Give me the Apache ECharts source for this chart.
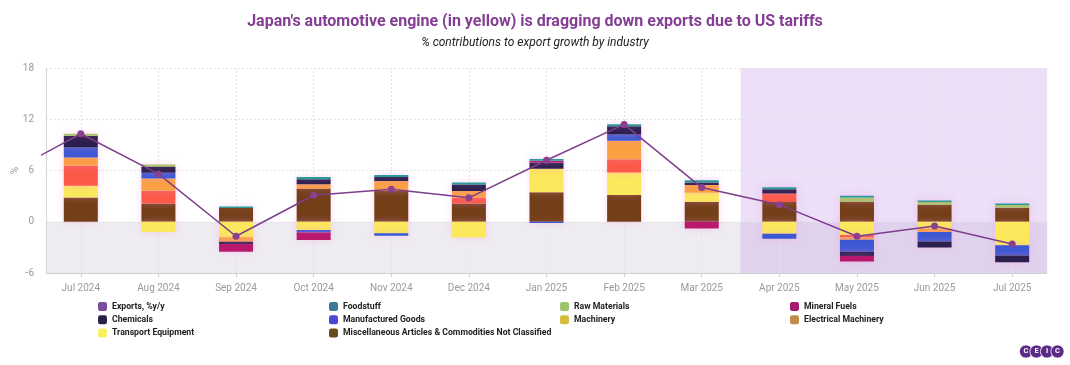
<!DOCTYPE html>
<html><head><meta charset="utf-8">
<script src="https://cdn.jsdelivr.net/npm/echarts@6/dist/echarts.min.js"></script>
<style>html,body{margin:0;padding:0;background:#fff}#c{width:1070px;height:365px}</style>
</head><body><div id="c"></div>
<script>
// ---- data ----
const categories = ['Jul 2024','Aug 2024','Sep 2024','Oct 2024','Nov 2024','Dec 2024','Jan 2025','Feb 2025','Mar 2025','Apr 2025','May 2025','Jun 2025','Jul 2025'];
const exportsJun2024 = 5.4; // previous month, only the line segment entering the plot is visible
const exportsYoY = [10.3, 5.6, -1.7, 3.1, 3.8, 2.8, 7.2, 11.4, 4.0, 2.0, -1.7, -0.5, -2.6];
const misc       = [2.84, 2.15, 1.6, 3.9, 3.6, 2.15, 3.45, 3.12, 2.34, 2.3, 2.35, 2.0, 1.65];
const transport  = [1.37, -1.2, -1.8, -0.97, -1.36, -1.83, 2.75, 2.65, 1.05, -1.4, -1.55, -0.8, -2.75];
const electrical = [2.37, 1.47, 0, 0, 0, 0.7, 0, 1.56, 0, 1.0, -0.3, 0, 0];
const machinery  = [0.94, 1.45, -0.55, 0.5, 1.17, 0.74, 0, 2.14, 0.9, 0, -0.25, -0.4, 0];
const manufactured = [1.17, 0.66, 0, -0.3, -0.27, 0, -0.15, 0.74, 0, -0.6, -1.4, -1.1, -1.2];
const chemicals  = [1.37, 0.74, -0.25, 0.58, 0.47, 0.78, 0.75, 0.97, 0.3, 0.5, -0.5, -0.7, -0.8];
const mineralFuels = [0, 0, -0.9, -0.86, 0, 0, 0.2, 0, -0.8, 0, -0.65, 0, 0];
const rawMaterials = [0.23, 0.23, 0, 0, 0, 0, 0, 0, 0, 0, 0.5, 0.3, 0.3];
const foodstuff  = [0, 0, 0.2, 0.27, 0.23, 0.23, 0.2, 0.23, 0.27, 0.25, 0.2, 0.2, 0.2];
const yTicks = [-6, 0, 6, 12, 18];
const shadedFrom = 'Apr 2025';

// ---- presentation ----
const barSeriesDef = [
  ['Miscellaneous Articles & Commodities Not Classified', misc, '#733f18', '#6b4a1a'],
  ['Transport Equipment', transport, '#fbe85c', '#f6f064'],
  ['Electrical Machinery', electrical, '#fb5a48', '#c48a4a'],
  ['Machinery', machinery, '#fba043', '#d4bd3c'],
  ['Manufactured Goods', manufactured, '#3b58d2', '#4b48d6'],
  ['Chemicals', chemicals, '#2b1f4d', '#2a2048'],
  ['Mineral Fuels', mineralFuels, '#b8196f', '#a11a6e'],
  ['Raw Materials', rawMaterials, '#a9c46a', '#9dc56d'],
  ['Foodstuff', foodstuff, '#2a9a9a', '#3d7a9a']
];
const legendColor = {'Exports, %y/y': '#7a4e9e'};
barSeriesDef.forEach(d => legendColor[d[0]] = d[3]);

const FONT = 'Roboto, "Noto Sans", sans-serif';
const X0 = -0.45, X1 = categories.length - 1 + 0.45;   // visible plot frame (in category units)
const yMin = yTicks[0], yMax = yTicks[yTicks.length - 1];
const series = [];
// background bands
series.push({
  type: 'line', xAxisIndex: 1, data: [], silent: true, z: 0,
  markArea: {
    silent: true, z: 0,
    data: [
      [{xAxis: X0, yAxis: yMin, itemStyle: {color: 'rgba(187,179,199,0.25)'}}, {xAxis: X1, yAxis: 0}],
      [{xAxis: categories.indexOf(shadedFrom) - 0.5, yAxis: yMin, itemStyle: {color: 'rgba(192,148,228,0.30)'}}, {xAxis: X1, yAxis: yMax}]
    ]
  }
});
// grid lines and axis lines
const gridLines = [];
categories.forEach((c, i) => gridLines.push([{coord: [i, yMin]}, {coord: [i, yMax]}]));
yTicks.slice(1).forEach(v => gridLines.push([{coord: [X0, v]}, {coord: [X1, v]}]));
series.push({
  type: 'line', xAxisIndex: 1, data: [], silent: true, z: 1,
  markLine: {
    silent: true, z: 1, symbol: ['none', 'none'], label: {show: false},
    lineStyle: {type: [2, 2], color: '#e2e2e2', width: 1},
    data: gridLines.concat([
      [{coord: [X0, yMin], lineStyle: {type: 'solid', color: '#d6d6d6'}}, {coord: [X0, yMax]}],
      [{coord: [X0, yMin], lineStyle: {type: 'solid', color: '#cfcfcf'}}, {coord: [X1, yMin]}]
    ])
  }
});
barSeriesDef.forEach((d) => {
  series.push({
    name: d[0], type: 'bar', stack: 'total', barWidth: 34, z: 2,
    data: d[1].map(v => v === 0 ? null : v),
    itemStyle: {color: d[2], shadowBlur: 7, shadowColor: 'rgba(255,150,225,0.38)'},
    emphasis: {disabled: true}
  });
});
series.push({
  name: 'Exports, %y/y', type: 'line', xAxisIndex: 1, z: 5,
  data: [[-1, exportsJun2024]].concat(exportsYoY.map((v, i) => [i, v])),
  symbol: 'circle', symbolSize: 7, clip: true,
  lineStyle: {color: '#7d3f8c', width: 1.5},
  itemStyle: {color: '#8a3f90'},
  emphasis: {disabled: true}
});

const legendCols = [
  ['Exports, %y/y', 'Chemicals', 'Transport Equipment'],
  ['Foodstuff', 'Manufactured Goods', 'Miscellaneous Articles & Commodities Not Classified'],
  ['Raw Materials', 'Machinery'],
  ['Mineral Fuels', 'Electrical Machinery']
];
const legendLefts = [98, 329, 560, 790];
const legends = legendCols.map((col, k) => ({
  orient: 'vertical', left: legendLefts[k], top: 302, padding: 0,
  itemWidth: 9, itemHeight: 9, itemGap: 4.2, selectedMode: false,
  icon: 'roundRect',
  textStyle: {fontFamily: FONT, fontSize: 8.7, fontWeight: 'bold', color: '#222', lineHeight: 9},
  data: col.map(n => ({name: n, itemStyle: {color: legendColor[n]}}))
}));

const logoX = [1026, 1036.5, 1047, 1057.5];
const logoL = ['C', 'E', 'I', 'C'];
const graphic = [];
logoX.forEach((x, i) => {
  graphic.push({type: 'circle', shape: {cx: x, cy: 351.5, r: 6.6}, style: {fill: '#5a2a86', stroke: '#ffffff', lineWidth: 0.8}, z: 10 + i});
  graphic.push({type: 'text', x: x, y: 351.5, style: {text: logoL[i], fill: '#fff', font: 'bold 7.5px Roboto', align: 'center', verticalAlign: 'middle'}, z: 20});
});

const option = {
  animation: false,
  backgroundColor: '#fff',
  title: {
    text: "Japan's automotive engine (in yellow) is dragging down exports due to US tariffs",
    subtext: '% contributions to export growth by industry',
    left: 'center', top: 9, itemGap: 7,
    textStyle: {fontFamily: FONT, fontSize: 16, fontWeight: 'bold', color: '#843f93'},
    subtextStyle: {fontFamily: FONT, fontSize: 12, fontStyle: 'italic', color: '#222'}
  },
  legend: legends,
  graphic: graphic,
  grid: {left: 42, right: 19, top: 68, bottom: 92, containLabel: false, outerBoundsMode: 'none'},
  xAxis: [{
    type: 'category', data: categories, boundaryGap: true,
    axisLine: {show: false, onZero: false},
    axisTick: {show: true, alignWithLabel: true, length: 4, lineStyle: {color: '#cfcfcf'}},
    axisLabel: {fontFamily: FONT, fontSize: 10, color: '#9a9a9a', margin: 10},
    splitLine: {show: false}
  }, {
    type: 'value', min: -0.5, max: categories.length - 0.5, show: false,
    axisLine: {onZero: false},
    splitLine: {show: false}
  }],
  yAxis: {
    type: 'value', min: yMin, max: yMax, interval: yTicks[1] - yTicks[0],
    name: '%', nameLocation: 'middle', nameGap: 22, nameRotate: 90, nameMoveOverlap: false,
    nameTextStyle: {fontFamily: FONT, fontSize: 10, color: '#9a9a9a'},
    axisLine: {show: false, onZero: false},
    axisTick: {show: false},
    axisLabel: {fontFamily: FONT, fontSize: 10, color: '#9a9a9a', margin: 8},
    splitLine: {show: false}
  },
  series: series
};
const chart = echarts.init(document.getElementById('c'), null, {renderer: 'canvas'});
chart.setOption(option);
</script></body></html>
